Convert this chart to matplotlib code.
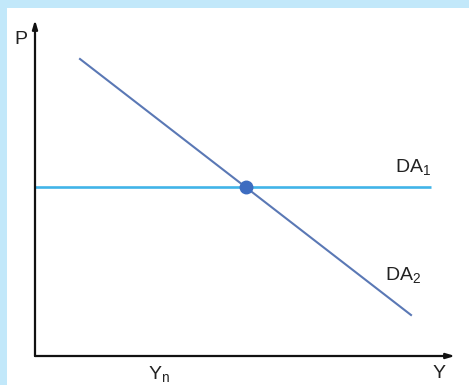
import matplotlib
matplotlib.use("Agg")
import matplotlib.pyplot as plt
from matplotlib.patches import Rectangle

plt.rcParams['font.family'] = ['Liberation Sans', 'DejaVu Sans']
plt.rcParams['mathtext.fontset'] = 'custom'
plt.rcParams['mathtext.rm'] = 'Liberation Sans'
plt.rcParams['mathtext.default'] = 'regular'

# data (axis units, origin at the corner of the axes)
da2_x = [45, 376]
da2_y = [297, 41]
da1_x = [0, 396]
da1_y = [169, 169]
eq_x = [211]
eq_y = [169]
x_max = 420
y_max = 336

fig = plt.figure(figsize=(4.69, 3.85), dpi=100)
fig.patch.set_facecolor('#c2e8fa')
fig.patches.append(Rectangle((7 / 469, 0), 1 - 7 / 469, 377 / 385,
                             transform=fig.transFigure, facecolor='white',
                             edgecolor='none', zorder=0))

ax = fig.add_axes([35 / 469, 29 / 385, 420 / 469, 336 / 385])
ax.set_zorder(2)
ax.set_facecolor('none')
ax.set_xlim(0, x_max)
ax.set_ylim(0, y_max)
for s in ax.spines.values():
    s.set_visible(False)
ax.set_xticks([])
ax.set_yticks([])

# axes with arrows
arrow = dict(arrowstyle='-|>,head_length=0.5,head_width=0.15', color='#111111', lw=1.6,
             shrinkA=0, shrinkB=0)
ax.annotate('', xy=(x_max, 0), xytext=(0, 0), arrowprops=arrow, annotation_clip=False)
ax.annotate('', xy=(0, y_max), xytext=(0, 0), arrowprops=arrow, annotation_clip=False)

ax.plot(da1_x, da1_y, color='#41b4e8', lw=1.9, solid_capstyle='butt', clip_on=False)
ax.plot(da2_x, da2_y, color='#5a78b5', lw=1.5, clip_on=False)
ax.plot(eq_x, eq_y, 'o', color='#3d6cc0', markersize=9, clip_on=False)

ax.text(-14, 317, 'P', fontsize=14, ha='center', va='center', color='#222222')
ax.text(404, -18, 'Y', fontsize=14, ha='center', va='center', color='#222222')
ax.text(113, -18, 'Y$_n$', fontsize=14, ha='left', va='center', color='#222222')
ax.text(360, 189, 'DA$_1$', fontsize=14, ha='left', va='center', color='#222222')
ax.text(350, 81, 'DA$_2$', fontsize=14, ha='left', va='center', color='#222222')

fig.savefig('out.png', dpi=100, facecolor=fig.get_facecolor())
